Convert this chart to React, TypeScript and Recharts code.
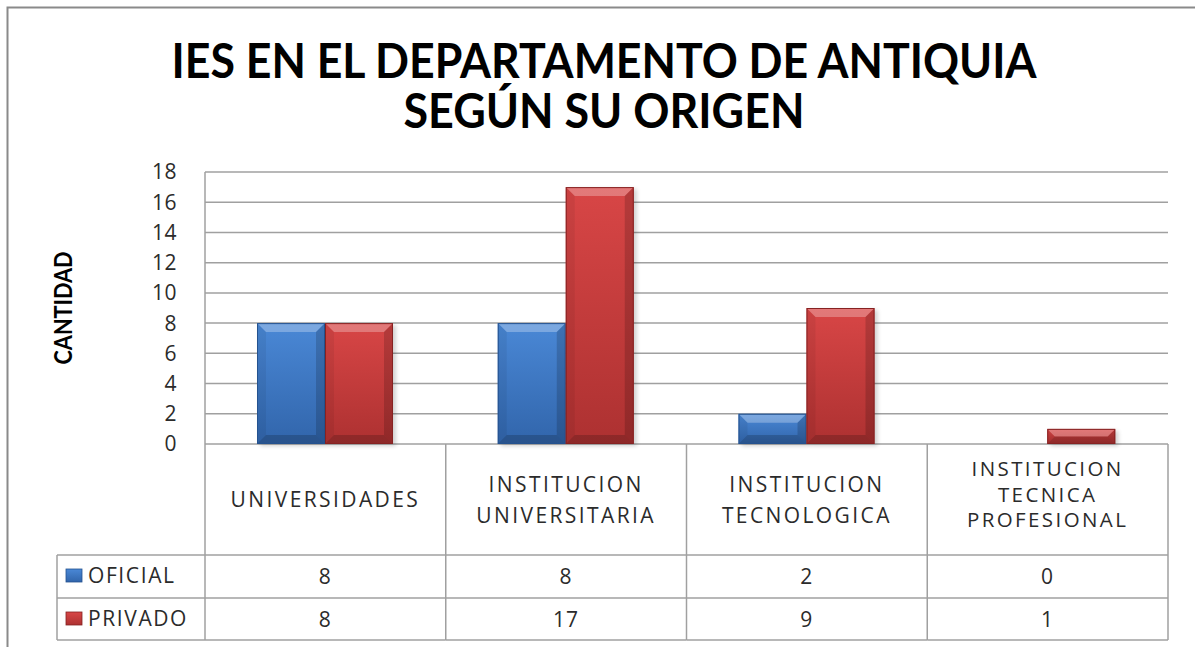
import { BarChart, Bar, XAxis, YAxis, CartesianGrid } from "recharts";

const categories = [
  "UNIVERSIDADES",
  "INSTITUCION\nUNIVERSITARIA",
  "INSTITUCION\nTECNOLOGICA",
  "INSTITUCION\nTECNICA\nPROFESIONAL",
];
const oficial = [8, 8, 2, 0];
const privado = [8, 17, 9, 1];
const seriesNames = ["OFICIAL", "PRIVADO"];
const yTicks = [0, 2, 4, 6, 8, 10, 12, 14, 16, 18];
const titleLines = ["IES EN EL DEPARTAMENTO DE ANTIQUIA", "SEGÚN SU ORIGEN"];
const yLabel = "CANTIDAD";

const data = categories.map((name, i) => ({
  name,
  oficial: oficial[i],
  privado: privado[i],
}));

const W = 1195;
const H = 647;
const PLOT_LEFT = 205;
const PLOT_RIGHT = 1168;
const PLOT_TOP = 172;
const PLOT_BOTTOM = 444;
const ROW1 = 555;
const ROW2 = 598;
const TABLE_BOTTOM = 640;
const LEGEND_LEFT = 57;
const LINE = "#a0a0a0";
const TEXT = "#2b2b2b";
const FONT = "'Open Sans', sans-serif";
const TITLE_FONT = "Lato, 'Open Sans', sans-serif";

const colors = {
  blue: { top: "#4a88d6", bottom: "#3165ab", edge: "#24528f" },
  red: { top: "#d84646", bottom: "#ad3131", edge: "#862222" },
};

function BevelBar(props: any) {
  const { x, y, width, height, kind } = props;
  if (!height || height <= 0) return null;
  const w = width;
  const h = height;
  const b = Math.min(9, w / 4, h / 2);
  const c = colors[kind as "blue" | "red"];
  return (
    <g>
      <rect x={x + 3} y={y + 2} width={w} height={h} fill="#000" opacity={0.18} filter="url(#barShadow)" />
      <rect x={x} y={y} width={w} height={h} fill={`url(#grad-${kind})`} />
      <polygon points={`${x},${y} ${x + w},${y} ${x + w - b},${y + b} ${x + b},${y + b}`} fill="#fff" opacity={0.28} />
      <polygon points={`${x},${y + h} ${x + w},${y + h} ${x + w - b},${y + h - b} ${x + b},${y + h - b}`} fill="#000" opacity={0.18} />
      <polygon points={`${x},${y} ${x + b},${y + b} ${x + b},${y + h - b} ${x},${y + h}`} fill="#000" opacity={0.06} />
      <polygon points={`${x + w},${y} ${x + w - b},${y + b} ${x + w - b},${y + h - b} ${x + w},${y + h}`} fill="#000" opacity={0.16} />
      <rect x={x + 0.5} y={y + 0.5} width={w - 1} height={h - 1} fill="none" stroke={c.edge} strokeWidth={1} />
    </g>
  );
}

function TableTick(props: any) {
  const { x, payload } = props;
  const i = payload.index;
  const cellW = (PLOT_RIGHT - PLOT_LEFT) / categories.length;
  const right = x + cellW / 2;
  const left = x - cellW / 2;
  const lines = categories[i].split("\n");
  const gap = lines.length > 2 ? 25.5 : 31;
  const mid = lines.length > 2 ? 494 : 499.5;
  const textProps = {
    fill: TEXT,
    fontFamily: FONT,
    fontSize: lines.length > 2 ? 20.5 : 21,
    letterSpacing: 2.4,
    textAnchor: "middle" as const,
  };
  return (
    <g>
      <line x1={right} y1={PLOT_BOTTOM} x2={right} y2={TABLE_BOTTOM} stroke={LINE} strokeWidth={1.5} />
      <line x1={left} y1={ROW1} x2={right} y2={ROW1} stroke={LINE} strokeWidth={1.5} />
      <line x1={left} y1={ROW2} x2={right} y2={ROW2} stroke={LINE} strokeWidth={1.5} />
      <line x1={left} y1={TABLE_BOTTOM} x2={right} y2={TABLE_BOTTOM} stroke={LINE} strokeWidth={1.5} />
      {lines.map((line, k) => (
        <text key={k} x={x} y={mid + (k - (lines.length - 1) / 2) * gap + 7.5} {...textProps}>
          {line}
        </text>
      ))}
      <text x={x} y={584} {...textProps} fontSize={21} letterSpacing={1}>
        {oficial[i]}
      </text>
      <text x={x} y={627} {...textProps} fontSize={21} letterSpacing={1}>
        {privado[i]}
      </text>
    </g>
  );
}

export default function App() {
  return (
    <div style={{ position: "absolute", left: 0, top: 0, width: W, height: H, background: "#fff", overflow: "hidden" }}>
      <BarChart
        width={W}
        height={H}
        data={data}
        margin={{ top: PLOT_TOP, right: W - PLOT_RIGHT, left: 0, bottom: 0 }}
        barCategoryGap="21.6%"
        barGap={0}
      >
        <defs>
          <linearGradient id="grad-blue" x1="0" y1="0" x2="0" y2="1">
            <stop offset="0%" stopColor={colors.blue.top} />
            <stop offset="100%" stopColor={colors.blue.bottom} />
          </linearGradient>
          <linearGradient id="grad-red" x1="0" y1="0" x2="0" y2="1">
            <stop offset="0%" stopColor={colors.red.top} />
            <stop offset="100%" stopColor={colors.red.bottom} />
          </linearGradient>
          <filter id="barShadow" x="-20%" y="-20%" width="140%" height="140%">
            <feGaussianBlur stdDeviation="2" />
          </filter>
        </defs>
        <CartesianGrid vertical={false} stroke={LINE} strokeWidth={1.5} />
        <XAxis
          dataKey="name"
          height={H - PLOT_BOTTOM}
          axisLine={false}
          tickLine={false}
          interval={0}
          tick={<TableTick />}
        />
        <YAxis
          width={PLOT_LEFT}
          domain={[0, 18]}
          ticks={yTicks}
          interval={0}
          tickLine={false}
          tickSize={0}
          tickMargin={28}
          axisLine={{ stroke: LINE, strokeWidth: 1.5 }}
          tick={{ fill: TEXT, fontFamily: FONT, fontSize: 21, letterSpacing: 0.5 }}
        />
        <Bar dataKey="oficial" isAnimationActive={false} shape={(p: any) => <BevelBar {...p} kind="blue" />} />
        <Bar dataKey="privado" isAnimationActive={false} shape={(p: any) => <BevelBar {...p} kind="red" />} />
      </BarChart>
      <svg
        width={W}
        height={H}
        style={{ position: "absolute", left: 0, top: 0, pointerEvents: "none" }}
      >
        <defs>
          <linearGradient id="key-blue" x1="0" y1="0" x2="0" y2="1">
            <stop offset="0%" stopColor={colors.blue.top} />
            <stop offset="100%" stopColor={colors.blue.bottom} />
          </linearGradient>
          <linearGradient id="key-red" x1="0" y1="0" x2="0" y2="1">
            <stop offset="0%" stopColor={colors.red.top} />
            <stop offset="100%" stopColor={colors.red.bottom} />
          </linearGradient>
        </defs>
        <rect x={7.5} y={7.5} width={W + 50} height={H + 50} fill="none" stroke="#8a8a8a" strokeWidth={2} />
        <text x={604} y={78} textAnchor="middle" fontFamily={TITLE_FONT} fontWeight={700} fontSize={48} fill="#000" textLength={865} lengthAdjust="spacingAndGlyphs">
          {titleLines[0]}
        </text>
        <text x={604} y={128} textAnchor="middle" fontFamily={TITLE_FONT} fontWeight={700} fontSize={48} fill="#000" textLength={401} lengthAdjust="spacingAndGlyphs">
          {titleLines[1]}
        </text>
        <text
          x={62.5}
          y={308 + 9}
          transform="rotate(-90, 62.5, 308)"
          textAnchor="middle"
          fontFamily={TITLE_FONT}
          fontWeight={700}
          fontSize={25}
          fill="#000"
          textLength={113}
          lengthAdjust="spacingAndGlyphs"
        >
          {yLabel}
        </text>
        <line x1={PLOT_LEFT} y1={PLOT_BOTTOM} x2={PLOT_LEFT} y2={TABLE_BOTTOM} stroke={LINE} strokeWidth={1.5} />
        <line x1={LEGEND_LEFT} y1={ROW1} x2={LEGEND_LEFT} y2={TABLE_BOTTOM} stroke={LINE} strokeWidth={1.5} />
        <line x1={LEGEND_LEFT} y1={ROW1} x2={PLOT_LEFT} y2={ROW1} stroke={LINE} strokeWidth={1.5} />
        <line x1={LEGEND_LEFT} y1={ROW2} x2={PLOT_LEFT} y2={ROW2} stroke={LINE} strokeWidth={1.5} />
        <line x1={LEGEND_LEFT} y1={TABLE_BOTTOM} x2={PLOT_LEFT} y2={TABLE_BOTTOM} stroke={LINE} strokeWidth={1.5} />
        {seriesNames.map((name, k) => {
          const rowTop = k === 0 ? ROW1 : ROW2;
          const kind = k === 0 ? "blue" : "red";
          return (
            <g key={name}>
              <rect x={66} y={rowTop + 14} width={16} height={13} fill={`url(#key-${kind})`} stroke={colors[kind].edge} strokeWidth={0.8} />
              <text x={88} y={rowTop + 28} fontFamily={FONT} fontSize={21} letterSpacing={1.6} fill={TEXT}>
                {name}
              </text>
            </g>
          );
        })}
      </svg>
    </div>
  );
}
